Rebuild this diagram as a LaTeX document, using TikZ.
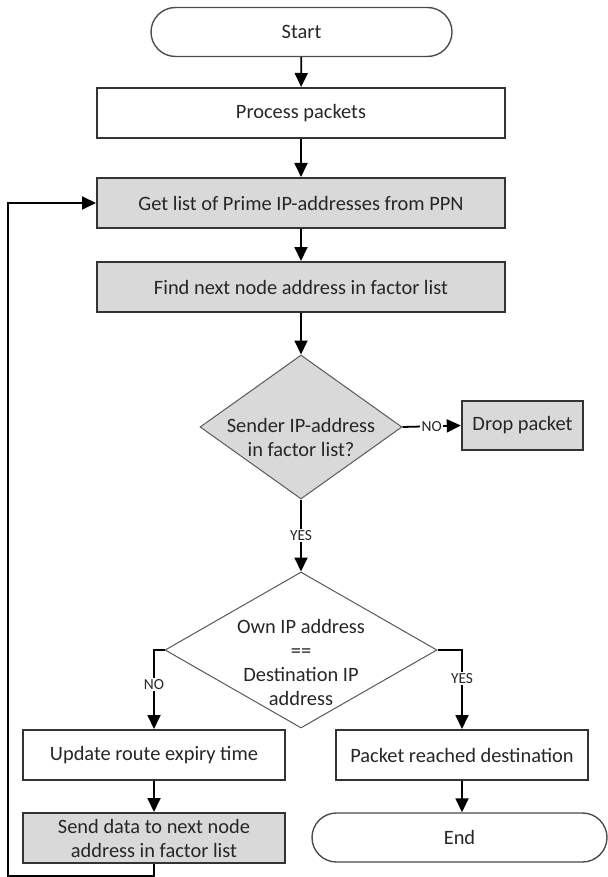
\documentclass[tikz,border=0pt]{standalone}
\usepackage{fontspec}
\setmainfont{Carlito}
\usetikzlibrary{arrows.meta,shapes.geometric}

\begin{document}
\begin{tikzpicture}[x=1pt,y=-1pt,
  every node/.style={font=\fontsize{20.4}{24}\selectfont, text=black!85},
  terminal/.style={draw=black!70, line width=1.4pt, rounded corners=24.5pt,
    minimum height=49pt, inner sep=0},
  procbox/.style={draw=black!80, line width=2pt, minimum height=50pt, inner sep=0},
  shaded/.style={fill=gray!30},
  decision/.style={diamond, draw=black!65, line width=1pt, inner sep=0},
  flow/.style={line width=1.8pt, -{Triangle[length=14pt,width=13pt]}},
  lbl/.style={font=\fontsize{15.4}{18}\selectfont, fill=white, inner sep=1.5pt}
]
\useasboundingbox (0,0) rectangle (607,877);

% main column
\node[terminal, minimum width=301pt] (start) at (301.5,32) {Start};
\node[procbox, minimum width=408pt] (proc) at (301,113) {Process packets};
\node[procbox, shaded, minimum width=408pt] (getlist) at (301,203)
  {Get list of Prime IP-addresses from PPN};
\node[procbox, shaded, minimum width=408pt] (findnext) at (301,287)
  {Find next node address in factor list};

% first decision
\node[decision, shaded, minimum width=202pt, minimum height=144pt] (d1) at (301,427) {};
\node[align=center] (d1text) at (301,437) {Sender IP-address\\in factor list?};
\node[procbox, shaded, line width=2.4pt, minimum width=121pt, minimum height=49pt]
  (drop) at (522.5,425.5) {Drop packet};

% second decision
\node[decision, fill=white, minimum width=272pt, minimum height=156pt] (d2) at (301,650) {};
\node[align=center] (d2text) at (301,662)
  {Own IP address\\==\\Destination IP\\address};

% branches
\node[procbox, minimum width=262pt] (upd) at (154,755) {Update route expiry time};
\node[procbox, shaded, minimum width=262pt, align=center] (send) at (154,838)
  {Send data to next node\\address in factor list};
\node[procbox, minimum width=252pt] (reach) at (462,755) {Packet reached destination};
\node[terminal, minimum width=295pt] (end) at (459.5,837.5) {End};

\coordinate (loopcorner) at (8,876);

% connectors
\draw[flow] (start) -- (proc);
\draw[flow] (proc) -- (getlist);
\draw[flow] (getlist) -- (findnext);
\draw[flow] (findnext) -- (d1.north);
\draw[flow] (d1.east) -- node[lbl] (nolbl1) {NO} (drop.west);
\draw[flow] (d1.south) -- node[lbl] (yeslbl1) {YES} (d2.north);
\draw[flow] (d2.west) -| node[lbl, pos=0.72] (nolbl2) {NO} (upd.north);
\draw[flow] (d2.east) -| node[lbl, pos=0.68] (yeslbl2) {YES} (reach.north);
\draw[flow] (upd) -- (send);
\draw[flow] (reach.south) -- (reach.south |- end.north);
\draw[flow] (send.south) |- (loopcorner) |- (getlist.west);
\end{tikzpicture}
\end{document}
